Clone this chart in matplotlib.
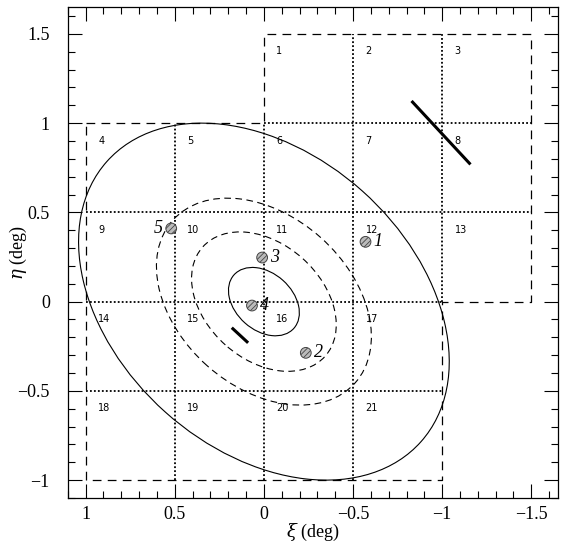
import matplotlib
matplotlib.use('Agg')
import matplotlib.pyplot as plt
import numpy as np
from matplotlib.patches import Ellipse
from matplotlib.ticker import MultipleLocator

plt.rcParams['font.family'] = ['Liberation Serif', 'DejaVu Serif']
plt.rcParams['mathtext.fontset'] = 'dejavuserif'

# field outline (dashed) and inner grid (dotted), in degrees
outline_xi = [1, 0, 0, -1.5, -1.5, -1, -1, 1, 1]
outline_eta = [1, 1, 1.5, 1.5, 0, 0, -1, -1, 1]
# dotted grid: (xi0, xi1, eta0, eta1)
grid_lines = [
    (0.5, 0.5, -1, 1), (0, 0, -1, 1), (-0.5, -0.5, -1, 1.5), (-1, -1, 0, 1.5),
    (0, -1.5, 1, 1), (1, -1.5, 0.5, 0.5), (1, -1, 0, 0), (1, -1, -0.5, -0.5),
]
# field numbers, top-left corner of each field
field_num = list(range(1, 22))
field_xi = [0, -0.5, -1, 1, 0.5, 0, -0.5, -1, 1, 0.5, 0, -0.5, -1,
            1, 0.5, 0, -0.5, 1, 0.5, 0, -0.5]
field_eta = [1.5, 1.5, 1.5, 1, 1, 1, 1, 1, 0.5, 0.5, 0.5, 0.5, 0.5,
             0, 0, 0, 0, -0.5, -0.5, -0.5, -0.5]

# numbered objects
obj_id = ['1', '2', '3', '4', '5']
obj_xi = [-0.57, -0.235, 0.01, 0.067, 0.52]
obj_eta = [0.335, -0.287, 0.247, -0.022, 0.41]

# isopleths: semi-major, semi-minor, angle (deg), line style
ell_a = [1.18, 0.685, 0.46, 0.225]
ell_b = [0.83, 0.48, 0.325, 0.16]
ell_ang = [41.7, 41.7, 41.7, 41.7]
ell_ls = ['-', (0, (6, 4)), (0, (6, 4)), '-']

# thick segments
seg1_xi, seg1_eta = [-0.834, -1.153], [1.118, 0.775]
seg2_xi, seg2_eta = [0.174, 0.095], [-0.152, -0.225]

fig = plt.figure(figsize=(5.7, 5.49), dpi=100)
ax = fig.add_axes([0.119, 0.093, 0.86, 0.894])

ax.plot(outline_xi, outline_eta, color='black', lw=0.9, ls=(0, (7, 5)))
for x0, x1, y0, y1 in grid_lines:
    ax.plot([x0, x1], [y0, y1], color='black', lw=1.3, ls=(0, (1, 1.2)))

for n, x, y in zip(field_num, field_xi, field_eta):
    ax.text(x - 0.07, y - 0.07, str(n), fontsize=7, family='DejaVu Sans',
            ha='left', va='top')

for a, b, ang, ls in zip(ell_a, ell_b, ell_ang, ell_ls):
    ax.add_patch(Ellipse((0, 0), 2 * a, 2 * b, angle=ang, fill=False,
                         lw=0.8, ls=ls, color='black'))

ax.plot(seg1_xi, seg1_eta, color='black', lw=2.2)
ax.plot(seg2_xi, seg2_eta, color='black', lw=2.2)

plt.rcParams['hatch.linewidth'] = 0.6
ax.scatter(obj_xi, obj_eta, s=60, facecolor='#bbbbbb', edgecolor='#444444',
           hatch='//////', lw=0.7, zorder=5)
for s, x, y in zip(obj_id, obj_xi, obj_eta):
    if s == '5':
        ax.text(x + 0.045, y, s, fontsize=13, style='italic', ha='right', va='center')
    else:
        ax.text(x - 0.045, y, s, fontsize=13, style='italic', ha='left', va='center')

ax.set_xlim(1.1, -1.65)
ax.set_ylim(-1.1, 1.65)
ax.xaxis.set_major_locator(MultipleLocator(0.5))
ax.xaxis.set_minor_locator(MultipleLocator(0.1))
ax.yaxis.set_major_locator(MultipleLocator(0.5))
ax.yaxis.set_minor_locator(MultipleLocator(0.1))
ax.tick_params(which='both', direction='in', top=True, right=True, width=0.8)
ax.tick_params(which='major', length=10, labelsize=13)
ax.tick_params(axis='x', which='major', pad=6)
ax.tick_params(axis='y', which='major', pad=13)
ax.tick_params(which='minor', length=5)
ax.xaxis.set_major_formatter(plt.FuncFormatter(lambda v, p: ('%g' % v).replace('-', '\u2212')))
ax.yaxis.set_major_formatter(plt.FuncFormatter(lambda v, p: ('%g' % v).replace('-', '\u2212')))
for sp in ax.spines.values():
    sp.set_linewidth(0.9)

ax.set_xlabel(r'$\xi$ (deg)', fontsize=13)
ax.set_ylabel(r'$\eta$ (deg)', fontsize=13)
ax.xaxis.set_label_coords(0.5, -0.049)
ax.yaxis.set_label_coords(-0.08, 0.5)

fig.savefig('out.png', dpi=100)
